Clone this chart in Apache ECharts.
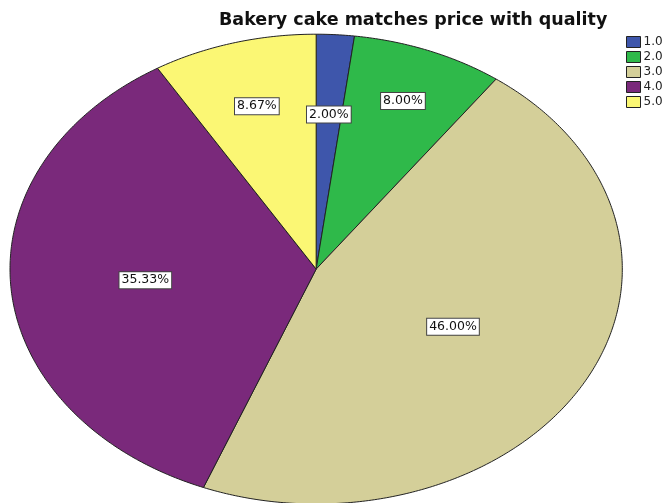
<!DOCTYPE html>
<html>
<head>
<meta charset="utf-8">
<script src="https://cdn.jsdelivr.net/npm/echarts@6/dist/echarts.min.js"></script>
<style>
  html, body { margin: 0; padding: 0; background: #fff; }
  #chart { width: 667px; height: 503px; }
</style>
</head>
<body>
<div id="chart"></div>
<script>
// Response categories and their share of respondents (percent)
const categories = ['1.0', '2.0', '3.0', '4.0', '5.0'];
const percents = [2.00, 8.00, 46.00, 35.33, 8.67];

const sliceColors = ['#3e56ab', '#2fb94a', '#d4cf99', '#7a297b', '#fbf774'];
// radial position of each percentage label, as a fraction of the radius
const labelFractions = [0.66, 0.77, 0.51, 0.56, 0.72];

// Elliptical pie geometry (fractions of the chart size)
const layout = { cx: 0.474, cy: 0.535, rx: 0.459, ry: 0.467 };

const total = percents.reduce((a, b) => a + b, 0);
const starts = [];
let acc = 0;
percents.forEach(v => { starts.push(acc); acc += v; });

function makeRenderer(idx) {
  return function (params, api) {
    const W = api.getWidth(), H = api.getHeight();
    const cx = W * layout.cx, cy = H * layout.cy;
    const rx = W * layout.rx, ry = H * layout.ry;
    const value = api.value(0);
    const a0 = starts[idx] / total * Math.PI * 2;
    const a1 = a0 + value / total * Math.PI * 2;
    const pts = [[cx, cy]];
    const steps = Math.max(4, Math.ceil((a1 - a0) / 0.01));
    for (let i = 0; i <= steps; i++) {
      const t = a0 + (a1 - a0) * i / steps;
      pts.push([cx + rx * Math.sin(t), cy - ry * Math.cos(t)]);
    }
    const mid = (a0 + a1) / 2;
    const f = labelFractions[idx];
    return {
      type: 'group',
      children: [
        {
          type: 'polygon',
          shape: { points: pts },
          style: { fill: sliceColors[idx], stroke: '#222', lineWidth: 1 }
        },
        {
          type: 'text',
          z2: 100,
          style: {
            x: cx + f * rx * Math.sin(mid),
            y: cy - f * ry * Math.cos(mid),
            text: value.toFixed(2) + '%',
            font: '12.5px "DejaVu Sans", sans-serif',
            fill: '#111',
            align: 'center',
            verticalAlign: 'middle',
            backgroundColor: '#fff',
            borderColor: '#444',
            borderWidth: 1,
            padding: [2, 2, 1, 2]
          }
        }
      ]
    };
  };
}

const chart = echarts.init(document.getElementById('chart'), null, { renderer: 'canvas' });

chart.setOption({
  animation: false,
  backgroundColor: '#fff',
  color: sliceColors,
  title: {
    text: 'Bakery cake matches price with quality',
    left: 219,
    top: 11,
    padding: 0,
    textStyle: {
      fontFamily: '"DejaVu Sans", sans-serif',
      fontWeight: 'bold',
      fontSize: 17.5,
      color: '#111'
    }
  },
  legend: {
    orient: 'vertical',
    left: 626,
    top: 36,
    padding: 0,
    itemGap: 3,
    itemWidth: 14,
    itemHeight: 11,
    icon: 'rect',
    data: categories,
    itemStyle: { borderColor: '#222', borderWidth: 1 },
    textStyle: {
      fontFamily: '"DejaVu Sans", sans-serif',
      fontSize: 12,
      lineHeight: 11,
      color: '#222',
      padding: [0, 0, 0, -2]
    }
  },
  series: categories.map((name, i) => ({
    type: 'custom',
    name: name,
    coordinateSystem: 'none',
    renderItem: makeRenderer(i),
    data: [[percents[i]]]
  }))
});
</script>
</body>
</html>
